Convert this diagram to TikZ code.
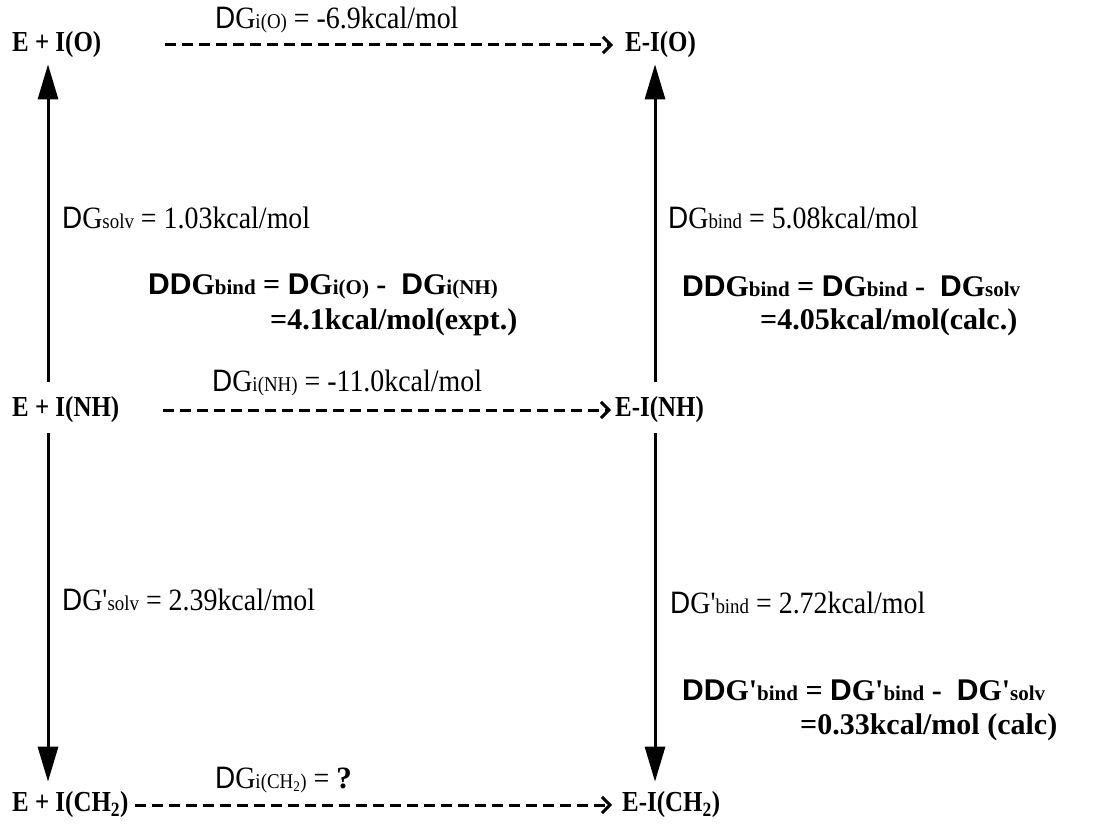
\documentclass[tikz,border=0pt]{standalone}
\usepackage{fontspec}
\setmainfont{Liberation Serif}
\newfontfamily\arialf{Liberation Sans}
\newfontfamily\plainf{Liberation Serif}
\newfontfamily\narrowf[FakeStretch=0.9]{Liberation Serif}
\newfontfamily\narrowarial[FakeStretch=0.9]{Liberation Sans}
\newfontfamily\statef[FakeStretch=0.86]{Liberation Serif}
\usetikzlibrary{arrows.meta}
\newcommand{\Dd}{{\arialf D}}
\newcommand{\Dn}{{\narrowarial D}}
\newcommand{\pr}{{\plainf '}}
\newcommand{\sm}[1]{{\fontsize{21}{23}\selectfont #1}}
\begin{document}
\begin{tikzpicture}[x=1pt,y=-1pt,
  state/.style={font=\statef\bfseries\fontsize{29}{32}\selectfont, inner sep=0pt, anchor=west},
  lab/.style={font=\narrowf\fontsize{31}{34}\selectfont, inner sep=0pt, anchor=west},
  blab/.style={font=\bfseries\fontsize{30}{34}\selectfont, inner sep=0pt, anchor=west},
  vert/.style={line width=3pt, -{Triangle[length=35pt,width=20pt]}},
  horiz/.style={line width=3pt, dash pattern=on 11pt off 6pt, -{Straight Barb[length=8pt,width=16pt]}}]
\useasboundingbox (0,0) rectangle (1108,834);
% states
\node[state] (EIO) at (12,45) {E + I(O)};
\node[state] (EIOr) at (625,45) {E-I(O)};
\node[state] (EINH) at (12,410) {E + I(NH)};
\node[state] (EINHr) at (615,410) {E-I(NH)};
\node[state] (EICH) at (12,805) {E + I(CH\textsubscript{2})};
\node[state] (EICHr) at (622,805) {E-I(CH\textsubscript{2})};
% columns
\coordinate (cL) at (48,0);
\coordinate (cR) at (655,0);
% horizontal connectors
\draw[horiz, shorten <=64pt, shorten >=12pt] (EIO.east) -- (EIOr.west);
\draw[horiz, shorten <=44pt, shorten >=4pt] (EINH.east) -- (EINHr.west);
\draw[horiz, shorten <=6pt, shorten >=10pt] (EICH.east) -- (EICHr.west);
% vertical connectors
\draw[vert, shorten <=15pt, shorten >=6pt] (EINH.north -| cL) -- (EIO.south -| cL);
\draw[vert, shorten <=15pt, shorten >=6pt] (EINH.north -| cR) -- (EIOr.south -| cR);
\draw[vert, shorten <=10pt, shorten >=10pt] (EINH.south -| cL) -- (EICH.north -| cL);
\draw[vert, shorten <=10pt, shorten >=10pt] (EINH.south -| cR) -- (EICHr.north -| cR);
% labels
\node[lab] (lO) at (215,20) {\Dn G\sm{i(O)} = -6.9kcal/mol};
\node[lab] (lNH) at (212,383) {\Dn G\sm{i(NH)} = -11.0kcal/mol};
\node[lab] (lCH) at (215,780) {\Dn G\sm{i(CH\textsubscript{2})} = {\rmfamily\bfseries ?}};
\node[lab] (ls) at (62,218) {\Dn G\sm{solv} = 1.03kcal/mol};
\node[lab] (lb) at (668,218) {\Dn G\sm{bind} = 5.08kcal/mol};
\node[lab] (ls2) at (62,600) {\Dn G'\sm{solv} = 2.39kcal/mol};
\node[lab] (lb2) at (670,603) {\Dn G'\sm{bind} = 2.72kcal/mol};
\node[blab] (d1) at (148,286) {\Dd\Dd G\sm{bind} = \Dd G\sm{i(O)} - \ \Dd G\sm{i(NH)}};
\node[blab] (d1b) at (270,322) {=4.1kcal/mol(expt.)};
\node[blab] (d2) at (682,286) {\Dd\Dd G\sm{bind} = \Dd G\sm{bind} - \ \Dd G\sm{solv}};
\node[blab] (d2b) at (760,322) {=4.05kcal/mol(calc.)};
\node[blab] (d3) at (682,690) {\Dd\Dd G\pr\sm{bind} = \Dd G\pr\sm{bind} - \ \Dd G\pr\sm{solv}};
\node[blab] (d3b) at (800,727) {=0.33kcal/mol (calc)};
\end{tikzpicture}
\end{document}
